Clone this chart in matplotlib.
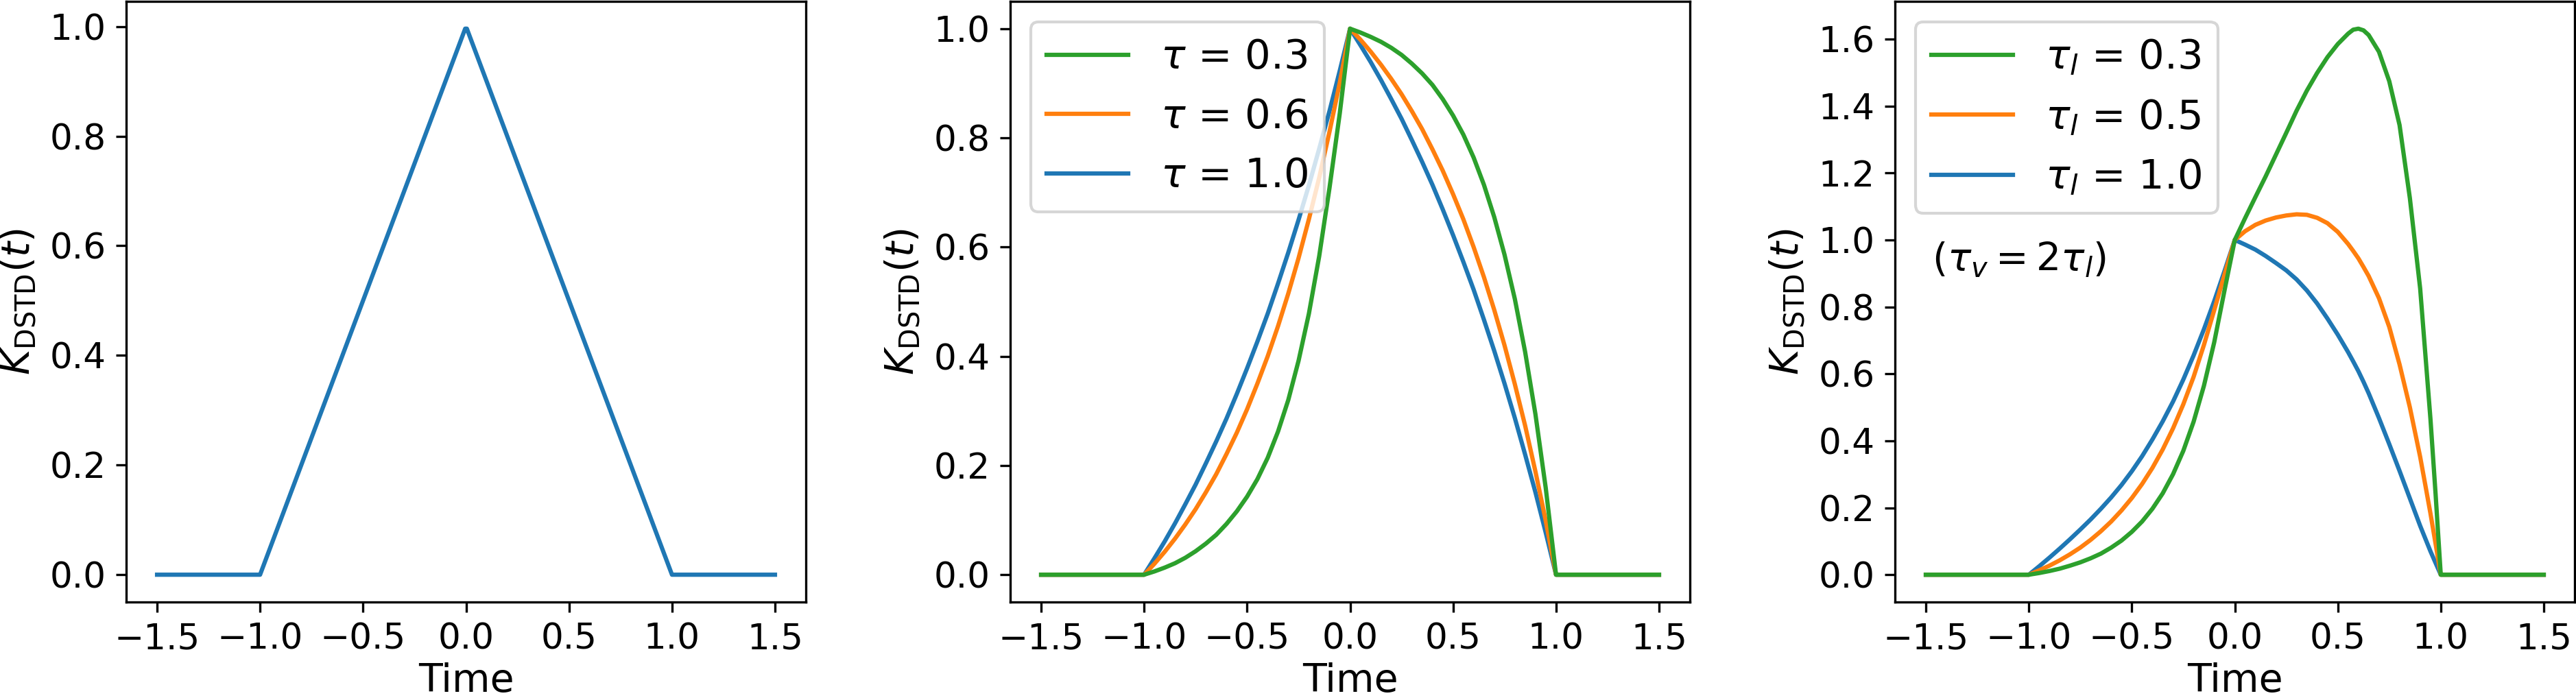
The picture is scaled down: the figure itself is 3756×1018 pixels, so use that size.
import matplotlib
matplotlib.use("Agg")
import matplotlib.pyplot as plt

# ---------------- data ----------------
# Panel 1: triangular kernel
t_tri = [-1.5, -1.0, -0.004, 0.004, 1.0, 1.5]
k_tri = [0.0, 0.0, 0.996, 0.996, 0.0, 0.0]

# Panel 2: time grid and kernels for tau = 1.0, 0.6, 0.3
t_p2 = [-1.5, -1.0, -0.95, -0.9, -0.85, -0.8, -0.75, -0.7, -0.65, -0.6, -0.55,
        -0.5, -0.45, -0.4, -0.35, -0.3, -0.25, -0.2, -0.15, -0.1, -0.05, 0.0,
        0.05, 0.1, 0.15, 0.2, 0.25, 0.3, 0.35, 0.4, 0.45, 0.5, 0.55, 0.6,
        0.65, 0.7, 0.75, 0.8, 0.85, 0.9, 0.95, 1.0, 1.5]
k_tau_10 = [0, 0, 0.030, 0.061, 0.094, 0.129, 0.165, 0.204, 0.244, 0.286, 0.331,
            0.378, 0.427, 0.478, 0.533, 0.590, 0.650, 0.713, 0.780, 0.849, 0.923, 1.0,
            0.970, 0.939, 0.906, 0.871, 0.835, 0.796, 0.756, 0.714, 0.669, 0.622,
            0.573, 0.522, 0.467, 0.410, 0.350, 0.287, 0.220, 0.151, 0.077, 0.0, 0.0]
k_tau_06 = [0, 0, 0.020, 0.042, 0.066, 0.092, 0.120, 0.151, 0.184, 0.221, 0.260,
            0.303, 0.350, 0.400, 0.455, 0.515, 0.580, 0.651, 0.727, 0.811, 0.901, 1.0,
            0.980, 0.958, 0.934, 0.908, 0.880, 0.849, 0.816, 0.779, 0.740, 0.697,
            0.651, 0.600, 0.545, 0.485, 0.420, 0.349, 0.273, 0.189, 0.099, 0.0, 0.0]
k_tau_03 = [0, 0, 0.006, 0.013, 0.021, 0.031, 0.043, 0.057, 0.073, 0.093, 0.116,
            0.143, 0.175, 0.214, 0.262, 0.320, 0.392, 0.478, 0.583, 0.708, 0.845, 1.0,
            0.993, 0.985, 0.976, 0.965, 0.952, 0.936, 0.918, 0.897, 0.871, 0.841,
            0.806, 0.764, 0.714, 0.655, 0.586, 0.505, 0.408, 0.294, 0.159, 0.0, 0.0]
labels_p2 = [r"$\tau$ = 1.0", r"$\tau$ = 0.6", r"$\tau$ = 0.3"]

# Panel 3: time grid and kernels for tau_l = 1.0, 0.5, 0.3 (tau_v = 2 tau_l)
t_p3 = [-1.5, -1.0, -0.95, -0.9, -0.85, -0.8, -0.75, -0.7, -0.65, -0.6, -0.55,
        -0.5, -0.45, -0.4, -0.35, -0.3, -0.25, -0.2, -0.15, -0.1, -0.05, 0.0,
        0.05, 0.1, 0.15, 0.2, 0.25, 0.3, 0.35, 0.4, 0.45, 0.5, 0.55, 0.575, 0.6,
        0.625, 0.65, 0.7, 0.75, 0.8, 0.85, 0.9, 0.925, 0.95, 0.975, 1.0, 1.5]
k_taul_10 = [0, 0, 0.025, 0.051, 0.078, 0.106, 0.135, 0.165, 0.197, 0.231, 0.268,
             0.309, 0.354, 0.404, 0.458, 0.517, 0.583, 0.655, 0.733, 0.817, 0.907, 1.0,
             0.986, 0.971, 0.952, 0.931, 0.909, 0.882, 0.849, 0.810, 0.765, 0.717,
             0.665, 0.637, 0.608, 0.576, 0.542, 0.468, 0.390, 0.310, 0.228, 0.146,
             0.108, 0.070, 0.035, 0.0, 0.0]
k_taul_05 = [0, 0, 0.013, 0.027, 0.043, 0.061, 0.081, 0.104, 0.130, 0.159, 0.192,
             0.229, 0.271, 0.319, 0.374, 0.437, 0.509, 0.591, 0.686, 0.790, 0.896, 1.0,
             1.026, 1.045, 1.058, 1.067, 1.073, 1.0765, 1.075, 1.066, 1.050, 1.024,
             0.988, 0.967, 0.945, 0.919, 0.892, 0.826, 0.740, 0.628, 0.500, 0.352,
             0.268, 0.183, 0.092, 0.0, 0.0]
k_taul_03 = [0, 0, 0.005, 0.011, 0.018, 0.027, 0.037, 0.049, 0.063, 0.081, 0.102,
             0.128, 0.159, 0.197, 0.243, 0.300, 0.370, 0.457, 0.564, 0.694, 0.849, 1.0,
             1.065, 1.128, 1.190, 1.255, 1.320, 1.386, 1.446, 1.499, 1.546, 1.585,
             1.616, 1.628, 1.631, 1.626, 1.612, 1.562, 1.474, 1.343, 1.125, 0.855,
             0.660, 0.465, 0.240, 0.0, 0.0]
labels_p3 = [r"$\tau_l$ = 1.0", r"$\tau_l$ = 0.5", r"$\tau_l$ = 0.3"]
note_p3 = r"$(\tau_v = 2\tau_l)$"

xticks = [-1.5, -1.0, -0.5, 0.0, 0.5, 1.0, 1.5]
yticks_unit = [0.0, 0.2, 0.4, 0.6, 0.8, 1.0]
yticks_p3 = [0.0, 0.2, 0.4, 0.6, 0.8, 1.0, 1.2, 1.4, 1.6]

colors = ["#1f77b4", "#ff7f0e", "#2ca02c"]

# ---------------- figure ----------------
W, H, DPI = 3756, 1018, 300
fig = plt.figure(figsize=(W / DPI, H / DPI), dpi=DPI)

TICK_FS = 12.4
LABEL_FS = 13.7
LEG_FS = 14.2
LW = 1.5

lefts_px = [184, 1473, 2763]
ax_w = 991 / W
ax_b = (H - 878) / H
ax_h = 876 / H
axes = [fig.add_axes([l / W, ax_b, ax_w, ax_h]) for l in lefts_px]

for ax in axes:
    ax.set_xlabel("Time", fontsize=LABEL_FS, labelpad=2.0)
    ax.set_ylabel(r"$K_{\mathrm{DSTD}}(t)$", fontsize=LABEL_FS)
    ax.tick_params(labelsize=TICK_FS)
    ax.set_xticks(xticks)

# Panel 1
axes[0].plot(t_tri, k_tri, color=colors[0], lw=LW)
axes[0].set_yticks(yticks_unit)

# Panel 2
ax = axes[1]
lines = []
for y, c, lab in zip([k_tau_10, k_tau_06, k_tau_03], colors, labels_p2):
    ln, = ax.plot(t_p2, y, color=c, lw=LW, label=lab)
    lines.append(ln)
ax.set_yticks(yticks_unit)
ax.legend(handles=lines[::-1], loc="upper left", fontsize=LEG_FS)

# Panel 3
ax = axes[2]
lines = []
for y, c, lab in zip([k_taul_10, k_taul_05, k_taul_03], colors, labels_p3):
    ln, = ax.plot(t_p3, y, color=c, lw=LW, label=lab)
    lines.append(ln)
ax.set_yticks(yticks_p3)
ax.legend(handles=lines[::-1], loc="upper left", fontsize=LEG_FS)
ax.text(-1.47, 0.94, note_p3, fontsize=LABEL_FS, ha="left", va="center")

fig.savefig("out.png", dpi=DPI)
